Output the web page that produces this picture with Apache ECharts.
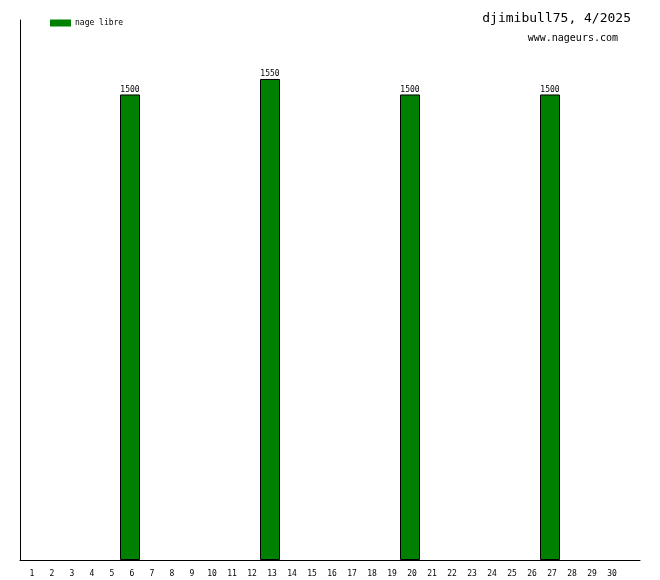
<!DOCTYPE html>
<html><head><meta charset="utf-8">
<script src="https://cdn.jsdelivr.net/npm/echarts@6/dist/echarts.min.js"></script>
<style>html,body{margin:0;padding:0;background:#fff}#c{width:660px;height:580px}</style>
</head><body><div id="c"></div>
<script>
const days = ['1','2','3','4','5','6','7','8','9','10','11','12','13','14','15','16','17','18','19','20','21','22','23','24','25','26','27','28','29','30',''];
const nageLibre = [null,null,null,null,null,1500,null,null,null,null,null,null,1550,null,null,null,null,null,null,1500,null,null,null,null,null,null,1500,null,null,null,null];
const titleText = 'djimibull75, 4/2025';
const siteText = 'www.nageurs.com';
const seriesName = 'nage libre';

const chart = echarts.init(document.getElementById('c'), null, {renderer:'canvas'});
const mono = 'DejaVu Sans Mono, monospace';
chart.setOption({
  animation:false,
  backgroundColor:'#fff',
  title:[
    {text:titleText, right:24, top:7, textStyle:{fontFamily:mono, fontSize:13, fontWeight:'normal', color:'#000'}},
    {text:siteText, right:37, top:28, textStyle:{fontFamily:mono, fontSize:10, fontWeight:'normal', color:'#000'}}
  ],
  legend:{left:45, top:14, itemWidth:21, itemHeight:7, itemGap:4,
    data:[{name:seriesName, icon:'rect', itemStyle:{borderWidth:0}}],
    textStyle:{fontFamily:mono, fontSize:8, color:'#000', padding:[0,0,0,-1]}},
  grid:{left:20, right:20, top:20, bottom:20},
  xAxis:{type:'category', data:days, boundaryGap:true,
    axisLine:{lineStyle:{color:'#000', width:1}}, axisTick:{show:false},
    axisLabel:{fontFamily:mono, fontSize:8, color:'#000', margin:10, interval:0, padding:[0,0,0,4]}},
  yAxis:{type:'value', min:0, max:1740, splitLine:{show:false},
    axisLine:{show:true, lineStyle:{color:'#000', width:1}}, axisTick:{show:false}, axisLabel:{show:false}},
  series:[{name:seriesName, type:'bar', data:nageLibre, barWidth:20,
    itemStyle:{color:'#008000', borderColor:'#000', borderWidth:1},
    label:{show:true, position:'top', distance:1, fontFamily:mono, fontSize:8, color:'#000'}}]
});
</script></body></html>
